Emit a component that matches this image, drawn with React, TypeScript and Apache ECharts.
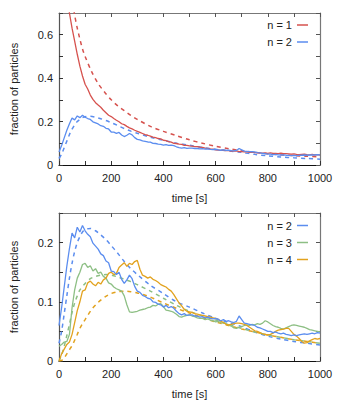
import React, { useEffect, useRef } from "react";
import * as echarts from "echarts";

// time grid of the measured curves (s)
const tMeas = Array.from({ length: 101 }, (_, i) => i * 10);

// measured n = 1 (top panel)
const n1Meas = [
  1.0, 0.93, 0.85, 0.77, 0.7, 0.63, 0.57, 0.51, 0.455, 0.41,
  0.372, 0.35, 0.322, 0.302, 0.287, 0.276, 0.266, 0.252, 0.241, 0.229,
  0.223, 0.214, 0.206, 0.199, 0.19, 0.186, 0.178, 0.171, 0.166, 0.16,
  0.155, 0.15, 0.145, 0.14, 0.137, 0.133, 0.128, 0.126, 0.122, 0.12,
  0.114, 0.112, 0.108, 0.105, 0.1, 0.099, 0.096, 0.095, 0.09, 0.09,
  0.088, 0.087, 0.085, 0.085, 0.082, 0.081, 0.078, 0.077, 0.074, 0.073,
  0.07, 0.069, 0.067, 0.068, 0.066, 0.066, 0.064, 0.064, 0.065, 0.062,
  0.062, 0.06, 0.061, 0.058, 0.059, 0.057, 0.057, 0.056, 0.055, 0.056,
  0.054, 0.056, 0.053, 0.054, 0.052, 0.055, 0.052, 0.052, 0.051, 0.05,
  0.051, 0.049, 0.048, 0.049, 0.05, 0.048, 0.047, 0.049, 0.047, 0.048,
  0.046,
];

// measured n = 2
const n2Meas = [
  0.06, 0.09, 0.125, 0.16, 0.19, 0.216, 0.208, 0.226, 0.218, 0.229,
  0.22, 0.214, 0.21, 0.199, 0.194, 0.189, 0.181, 0.178, 0.169, 0.166,
  0.152, 0.151, 0.146, 0.15, 0.138, 0.131, 0.137, 0.145, 0.139, 0.126,
  0.118, 0.116, 0.111, 0.109, 0.106, 0.105, 0.1, 0.099, 0.096, 0.095,
  0.091, 0.094, 0.09, 0.092, 0.089, 0.084, 0.08, 0.078, 0.08, 0.077,
  0.078, 0.078, 0.076, 0.076, 0.074, 0.075, 0.073, 0.074, 0.072, 0.071,
  0.072, 0.07, 0.068, 0.07, 0.067, 0.068, 0.066, 0.065, 0.067, 0.076,
  0.07, 0.064, 0.063, 0.062, 0.061, 0.06, 0.057, 0.056, 0.054, 0.052,
  0.05, 0.05, 0.048, 0.049, 0.047, 0.046, 0.047, 0.045, 0.044, 0.043,
  0.044, 0.043, 0.044, 0.045, 0.046, 0.045, 0.046, 0.047, 0.046, 0.048,
  0.047,
];

// measured n = 3
const n3Meas = [
  0.025, 0.028, 0.032, 0.033, 0.045, 0.09, 0.12, 0.14, 0.15, 0.163,
  0.165, 0.158, 0.161, 0.152, 0.156, 0.148, 0.15, 0.143, 0.14, 0.132,
  0.13, 0.125, 0.122, 0.12, 0.118, 0.11, 0.095, 0.083, 0.082, 0.083,
  0.084, 0.086, 0.087, 0.088, 0.09, 0.091, 0.094, 0.093, 0.096, 0.097,
  0.092, 0.086, 0.085, 0.084, 0.082, 0.079, 0.075, 0.074, 0.076, 0.077,
  0.078, 0.076, 0.075, 0.073, 0.072, 0.072, 0.07, 0.071, 0.069, 0.068,
  0.066, 0.067, 0.065, 0.064, 0.063, 0.061, 0.059, 0.056, 0.055, 0.057,
  0.058, 0.06, 0.061, 0.06, 0.062, 0.061, 0.063, 0.062, 0.064, 0.068,
  0.066, 0.063, 0.06, 0.058, 0.057, 0.055, 0.054, 0.056, 0.058, 0.06,
  0.061, 0.06, 0.059, 0.058, 0.057, 0.055, 0.053, 0.052, 0.051, 0.05,
  0.049,
];

// measured n = 4
const n4Meas = [
  0.0, 0.012, 0.02, 0.028, 0.032, 0.045, 0.065, 0.085, 0.1, 0.118,
  0.12, 0.132, 0.135, 0.13, 0.127, 0.133, 0.13, 0.137, 0.14, 0.148,
  0.15, 0.146, 0.148, 0.158, 0.162, 0.166, 0.16, 0.165, 0.163, 0.168,
  0.17, 0.155, 0.145, 0.143, 0.14, 0.142, 0.138, 0.136, 0.133, 0.129,
  0.127, 0.125, 0.121, 0.118, 0.112, 0.105, 0.098, 0.093, 0.087, 0.084,
  0.083, 0.082, 0.08, 0.079, 0.078, 0.077, 0.076, 0.075, 0.074, 0.073,
  0.072, 0.07, 0.067, 0.065, 0.062, 0.061, 0.062, 0.063, 0.064, 0.064,
  0.063, 0.062, 0.06, 0.057, 0.054, 0.051, 0.05, 0.048, 0.046, 0.045,
  0.044, 0.045, 0.047, 0.05, 0.052, 0.053, 0.054, 0.055, 0.055, 0.05,
  0.045, 0.042, 0.038, 0.033, 0.03, 0.031, 0.034, 0.036, 0.038, 0.037,
  0.038,
];

// model (dashed) curves
const n1ModelT = [30, 40, 50, 60, 70, 80, 90, 100, 125, 150, 175, 200, 225, 250, 275, 300, 350, 400, 450, 500, 550, 600, 650, 700, 750, 800, 850, 900, 950, 1000];
const n1Model = [0.97, 0.86, 0.77, 0.69, 0.63, 0.58, 0.535, 0.5, 0.43, 0.375, 0.335, 0.3, 0.272, 0.25, 0.229, 0.21, 0.178, 0.155, 0.135, 0.116, 0.1, 0.086, 0.075, 0.066, 0.058, 0.052, 0.047, 0.043, 0.04, 0.037];

const n2ModelT = [0, 10, 20, 30, 40, 50, 60, 70, 80, 90, 100, 120, 140, 160, 180, 200, 225, 250, 275, 300, 350, 400, 450, 500, 550, 600, 650, 700, 750, 800, 850, 900, 950, 1000];
const n2Model = [0.03, 0.05, 0.08, 0.11, 0.14, 0.165, 0.185, 0.2, 0.21, 0.218, 0.222, 0.224, 0.22, 0.213, 0.205, 0.195, 0.182, 0.168, 0.156, 0.146, 0.128, 0.114, 0.1, 0.091, 0.081, 0.072, 0.065, 0.058, 0.049, 0.042, 0.037, 0.033, 0.03, 0.027];

const n3ModelT = [0, 10, 20, 30, 40, 50, 60, 70, 80, 100, 120, 140, 160, 180, 200, 225, 250, 275, 300, 350, 400, 450, 500, 550, 600, 650, 700, 750, 800, 850, 900, 950, 1000];
const n3Model = [0.0, 0.01, 0.025, 0.043, 0.062, 0.082, 0.098, 0.11, 0.12, 0.131, 0.139, 0.143, 0.145, 0.146, 0.145, 0.142, 0.138, 0.134, 0.129, 0.118, 0.106, 0.094, 0.084, 0.076, 0.069, 0.062, 0.055, 0.049, 0.044, 0.04, 0.036, 0.033, 0.03];

const n4ModelT = [0, 10, 20, 30, 40, 50, 60, 70, 80, 90, 100, 125, 150, 175, 200, 225, 250, 275, 300, 325, 350, 375, 400, 450, 500, 550, 600, 650, 700, 750, 800, 850, 900, 950, 1000];
const n4Model = [0.0, 0.001, 0.005, 0.012, 0.019, 0.026, 0.035, 0.045, 0.055, 0.063, 0.07, 0.087, 0.099, 0.108, 0.114, 0.117, 0.118, 0.117, 0.115, 0.112, 0.108, 0.103, 0.098, 0.089, 0.081, 0.073, 0.066, 0.06, 0.054, 0.049, 0.044, 0.04, 0.036, 0.033, 0.03];

const xTicks = { min: 0, max: 1000, step: 100, labelEvery: 200 };
const topY = { min: 0, max: 0.7, step: 0.1 };
const botY = { min: 0, max: 0.25, step: 0.05 };

const RED = "#d6524e";
const BLUE = "#5b8def";
const GREEN = "#8dbf84";
const ORANGE = "#e2a21e";

const FONT = "Liberation Sans";

const zip = (t: number[], v: number[]) => t.map((x, i) => [x, v[i]]);

export default function App() {
  const ref = useRef<HTMLDivElement>(null);
  useEffect(() => {
    document.body.style.margin = "0";
    const chart = echarts.init(ref.current!, null, { renderer: "svg" });
    const grids = [
      { left: 52, top: 13, width: 268, height: 152 },
      { left: 52, top: 213, width: 268, height: 152 },
    ];
    const labelStyle = { fontFamily: FONT, fontSize: 11, color: "#222" };
    const tick = (color: string) => ({ show: true, inside: true, length: 4, lineStyle: { color, width: 1 } });
    const xAxes: any[] = [];
    const yAxes: any[] = [];
    [0, 1].forEach((g) => {
      xAxes.push({
        type: "value", gridIndex: g, position: "bottom",
        min: xTicks.min, max: xTicks.max, interval: xTicks.step,
        name: "time [s]", nameLocation: "middle", nameGap: 27,
        nameTextStyle: { ...labelStyle },
        axisLine: { show: true, onZero: false, lineStyle: { color: "#111", width: 1.2 } },
        axisTick: tick("#333"),
        splitLine: { show: false },
        axisLabel: {
          ...labelStyle, margin: 7,
          formatter: (v: number) => (Math.round(v) % xTicks.labelEvery === 0 ? String(Math.round(v)) : ""),
        },
      });
      xAxes.push({
        type: "value", gridIndex: g, position: "top",
        min: xTicks.min, max: xTicks.max, interval: xTicks.step,
        axisLine: { show: true, onZero: false, lineStyle: { color: "#777", width: 1.2 } },
        axisTick: tick("#555"),
        splitLine: { show: false },
        axisLabel: { show: false },
      });
      const ys = g === 0 ? topY : botY;
      const fmt = g === 0
        ? (v: number) => { const k = Math.round(v * 10); return k % 2 === 0 ? (k === 0 ? "0" : (k / 10).toFixed(1)) : ""; }
        : (v: number) => { const k = Math.round(v * 100); return k % 10 === 0 ? (k === 0 ? "0" : (k / 100).toFixed(1)) : ""; };
      yAxes.push({
        type: "value", gridIndex: g, position: "left",
        min: ys.min, max: ys.max, interval: ys.step,
        name: "fraction of particles", nameLocation: "middle", nameGap: 40,
        nameTextStyle: { ...labelStyle },
        axisLine: { show: true, onZero: false, lineStyle: { color: "#555", width: 1.2 } },
        axisTick: tick("#333"),
        splitLine: { show: false },
        axisLabel: { ...labelStyle, margin: 6, formatter: fmt },
      });
      yAxes.push({
        type: "value", gridIndex: g, position: "right",
        min: ys.min, max: ys.max, interval: ys.step,
        axisLine: { show: true, onZero: false, lineStyle: { color: "#777", width: 1.2 } },
        axisTick: tick("#555"),
        splitLine: { show: false },
        axisLabel: { show: false },
      });
    });

    const solid = (name: string, color: string, data: number[][], g: number) => ({
      name, type: "line", xAxisIndex: g * 2, yAxisIndex: g * 2, data,
      showSymbol: false, symbol: "none", color, clip: true,
      lineStyle: { color, width: 1.3 },
      z: 3,
    });
    const dashed = (name: string, color: string, data: number[][], g: number) => ({
      name, type: "line", xAxisIndex: g * 2, yAxisIndex: g * 2, data,
      showSymbol: false, symbol: "none", color, clip: true, smooth: 0.3,
      lineStyle: { color, width: 1.5, type: [4, 4] },
      z: 2,
    });

    const legendBase = {
      orient: "vertical", right: 30, padding: 0, itemGap: 0, align: "right",
      icon: "rect", itemWidth: 11, itemHeight: 1.5,
      textStyle: { fontFamily: FONT, fontSize: 11, color: "#222", lineHeight: 17 },
      selectedMode: false,
    };

    chart.setOption({
      animation: false,
      backgroundColor: "#fff",
      grid: grids,
      xAxis: xAxes,
      yAxis: yAxes,
      legend: [
        { ...legendBase, top: 16.5, data: ["n = 1", "n = 2"] },
        { ...legendBase, top: 217, data: ["n = 2", "n = 3", "n = 4"] },
      ],
      series: [
        dashed("n = 1 model", RED, zip(n1ModelT, n1Model), 0),
        dashed("n = 2 model", BLUE, zip(n2ModelT, n2Model), 0),
        solid("n = 1", RED, zip(tMeas, n1Meas), 0),
        solid("n = 2", BLUE, zip(tMeas, n2Meas), 0),
        dashed("n = 2 model b", BLUE, zip(n2ModelT, n2Model), 1),
        dashed("n = 3 model", GREEN, zip(n3ModelT, n3Model), 1),
        dashed("n = 4 model", ORANGE, zip(n4ModelT, n4Model), 1),
        solid("n = 3", GREEN, zip(tMeas, n3Meas), 1),
        solid("n = 4", ORANGE, zip(tMeas, n4Meas), 1),
        solid("n = 2", BLUE, zip(tMeas, n2Meas), 1),
      ],
    });
    return () => chart.dispose();
  }, []);
  return <div ref={ref} style={{ width: 338, height: 400 }} />;
}
